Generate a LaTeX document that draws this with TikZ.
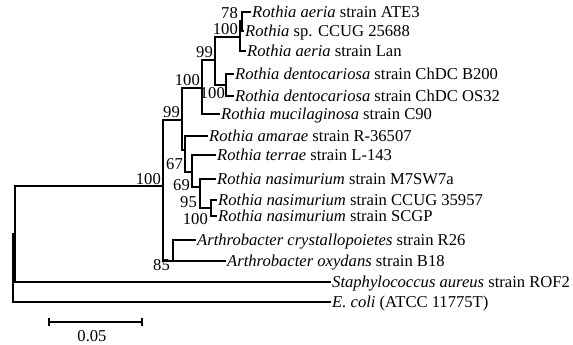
\documentclass[tikz,border=0pt]{standalone}
\usepackage{fontspec}
\setmainfont{Liberation Serif}
\begin{document}
\begin{tikzpicture}[x=1pt,y=-1pt,
  br/.style={line width=2.5pt},
  leaf/.style={anchor=west,inner xsep=1.5pt,inner ysep=0pt,text height=11pt,text depth=0pt,font=\fontsize{16.6}{20}\selectfont},
  boot/.style={anchor=east,inner sep=0pt,font=\fontsize{16.6}{20}\selectfont}]
\useasboundingbox (0,0) rectangle (573,345);
% leaves
\node[leaf] (ate3) at (250.5,12) {\textit{Rothia aeria} strain ATE3};
\node[leaf] (cc256) at (243.5,31) {\textit{Rothia} sp. CCUG 25688};
\node[leaf] (lan) at (245.5,51) {\textit{Rothia aeria} strain Lan};
\node[leaf] (b200) at (233.5,74) {\textit{Rothia dentocariosa} strain ChDC B200};
\node[leaf] (os32) at (233.5,96) {\textit{Rothia dentocariosa} strain ChDC OS32};
\node[leaf] (c90) at (219.5,114) {\textit{Rothia mucilaginosa} strain C90};
\node[leaf] (amar) at (207.5,136) {\textit{Rothia amarae} strain R-36507};
\node[leaf] (terr) at (215.5,155) {\textit{Rothia terrae} strain L-143};
\node[leaf] (m7) at (215.5,179) {\textit{Rothia nasimurium} strain M7SW7a};
\node[leaf] (cc359) at (216.5,200) {\textit{Rothia nasimurium} strain CCUG 35957};
\node[leaf] (scgp) at (216.5,216) {\textit{Rothia nasimurium} strain SCGP};
\node[leaf] (crys) at (195.5,240) {\textit{Arthrobacter crystallopoietes} strain R26};
\node[leaf] (oxy) at (225.5,261) {\textit{Arthrobacter oxydans} strain B18};
\node[leaf] (staph) at (330.5,282) {\textit{Staphylococcus aureus} strain ROF2};
\node[leaf] (ecoli) at (330.5,302) {\textit{E. coli} (ATCC 11775T)};
% internal nodes
\coordinate (n78) at (242,21);
\coordinate (n100a) at (240,37);
\coordinate (n100d) at (226,85);
\coordinate (n99b) at (215,60);
\coordinate (n100b) at (202,88);
\coordinate (n100n) at (211,208);
\coordinate (n95) at (200,187);
\coordinate (n69) at (192,172);
\coordinate (n67) at (185,150);
\coordinate (n99a) at (182,120);
\coordinate (n85) at (173,261);
\coordinate (nin) at (163,186);
\coordinate (r1) at (15,234);
\coordinate (r0) at (13,268);
% branches
\draw[br] (ate3.west) -| (n78) |- (cc256.west);
\draw[br] (n78) -| (n100a) |- (lan.west);
\draw[br] (b200.west) -| (n100d) |- (os32.west);
\draw[br] (n100a) -| (n99b) |- (n100d);
\draw[br] (n99b) -| (n100b) |- (c90.west);
\draw[br] (cc359.west) -| (n100n) |- (scgp.west);
\draw[br] (m7.west) -| (n95) |- (n100n);
\draw[br] (terr.west) -| (n69) |- (n95);
\draw[br] (amar.west) -| (n67) |- (n69);
\draw[br] (n100b) -| (n99a) |- (n67);
\draw[br] (crys.west) -| (n85) |- (oxy.west);
\draw[br] (n99a) -| (nin) |- (n85);
\draw[br] (nin) -| (r1) |- (staph.west);
\draw[br] (r1) -| (r0) |- (ecoli.west);
% bootstrap values
\node[boot] (b78) at (238,13) {78};
\node[boot] (b100a) at (238,29) {100};
\node[boot] (b99b) at (213,52) {99};
\node[boot] (b100d) at (225,93) {100};
\node[boot] (b100b) at (200,80) {100};
\node[boot] (b99a) at (180,112) {99};
\node[boot] (b100in) at (161,179) {100};
\node[boot] (b67) at (183,164) {67};
\node[boot] (b69) at (190,185) {69};
\node[boot] (b95) at (197,202) {95};
\node[boot] (b100n) at (208,219) {100};
\node[boot] (b85) at (170,265) {85};
% scale bar
\coordinate (sbl) at (49,322);
\coordinate (sbr) at (142,322);
\draw[line width=2.5pt] (sbl) -- (sbr);
\draw[line width=2.2pt] ([yshift=-4pt]sbl) -- ([yshift=4pt]sbl);
\draw[line width=2.2pt] ([yshift=-4pt]sbr) -- ([yshift=4pt]sbr);
\node[boot,anchor=center] (sblab) at (92,336) {0.05};
\end{tikzpicture}
\end{document}
